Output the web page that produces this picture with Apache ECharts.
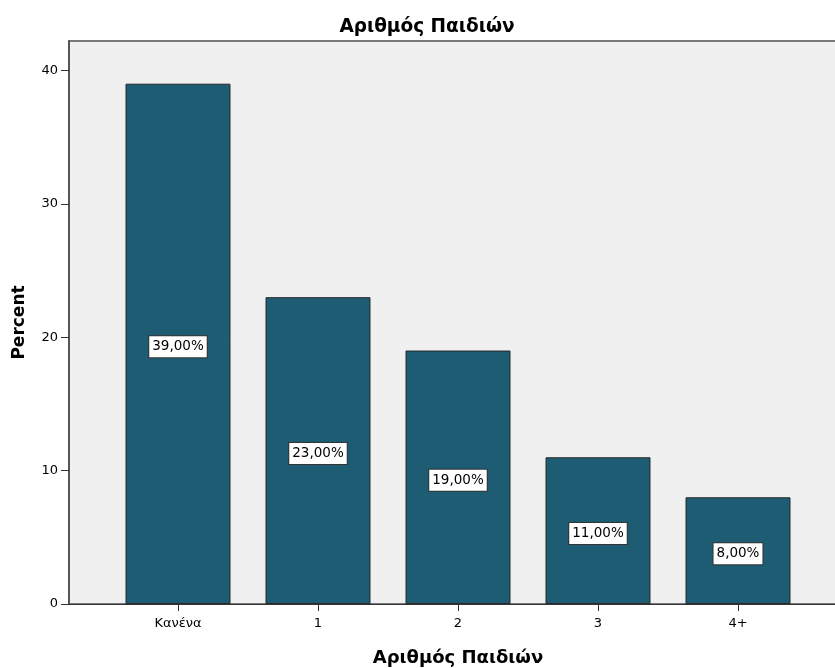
<!DOCTYPE html>
<html><head><meta charset="utf-8">
<script src="https://cdn.jsdelivr.net/npm/echarts@6/dist/echarts.min.js"></script>
<style>html,body{margin:0;padding:0;background:#fff}#c{width:835px;height:668px}</style>
</head><body><div id="c"></div>
<script>
const categories = ['Κανένα', '1', '2', '3', '4+'];
const percents = [39, 23, 19, 11, 8];
const yTicks = [0, 10, 20, 30, 40];
const titleText = 'Αριθμός Παιδιών';
const xName = 'Αριθμός Παιδιών';
const yName = 'Percent';

const FONT = '"DejaVu Sans", sans-serif';
const YMAX = 42.2;
const chart = echarts.init(document.getElementById('c'), null, {renderer: 'canvas'});
chart.setOption({
  animation: false,
  backgroundColor: '#ffffff',
  title: {
    text: titleText, left: 422, top: 13, textAlign: 'center',
    textStyle: {fontFamily: FONT, fontSize: 18.5, fontWeight: 'bold', color: '#000'}
  },
  grid: [
    {left: 69, right: -3, top: 41, bottom: 64, show: true, backgroundColor: '#f0f0f0', borderColor: '#7a7a7a', borderWidth: 2,
     containLabel: false, outerBoundsMode: 'none'},
    {left: 108, right: 27, top: 41, bottom: 64, containLabel: false, outerBoundsMode: 'none'}
  ],
  xAxis: [
    {type: 'value', gridIndex: 0, min: 0, max: 1, axisLabel: {show: false}, axisTick: {show: false}, splitLine: {show: false},
     axisLine: {show: true, lineStyle: {color: '#333', width: 1}}},
    {type: 'category', gridIndex: 1, data: categories, boundaryGap: true,
     axisLine: {show: false},
     axisTick: {show: true, alignWithLabel: true, length: 7, lineStyle: {color: '#333'}},
     axisLabel: {margin: 13, fontFamily: FONT, fontSize: 13, color: '#000'},
     name: xName, nameLocation: 'middle', nameGap: 45,
     nameTextStyle: {fontFamily: FONT, fontSize: 18, fontWeight: 'bold', color: '#000'}}
  ],
  yAxis: [
    {type: 'value', gridIndex: 0, min: 0, max: YMAX, interval: 10,
     axisLine: {show: true, lineStyle: {color: '#555', width: 2}},
     axisTick: {show: true, length: 8, customValues: yTicks, lineStyle: {color: '#333'}},
     axisLabel: {margin: 11, fontFamily: FONT, fontSize: 13, color: '#000', customValues: yTicks,
       formatter: v => yTicks.includes(v) ? String(v) : ''},
     splitLine: {show: false},
     name: yName, nameLocation: 'middle', nameGap: 41, nameRotate: 90,
     nameTextStyle: {fontFamily: FONT, fontSize: 17, fontWeight: 'bold', color: '#000'}},
    {type: 'value', gridIndex: 1, min: 0, max: YMAX, show: false}
  ],
  series: [{
    type: 'bar', xAxisIndex: 1, yAxisIndex: 1, data: percents, barWidth: 105,
    itemStyle: {color: '#1d5c72', borderColor: '#2a2a2a', borderWidth: 1},
    label: {
      show: true, position: 'inside', offset: [0, 3],
      formatter: p => p.value.toFixed(2).replace('.', ',') + '%',
      fontFamily: FONT, fontSize: 13.5, color: '#000',
      backgroundColor: '#ffffff', borderColor: '#333', borderWidth: 1, padding: [4, 3, 3, 3]
    }
  }]
});
</script></body></html>
